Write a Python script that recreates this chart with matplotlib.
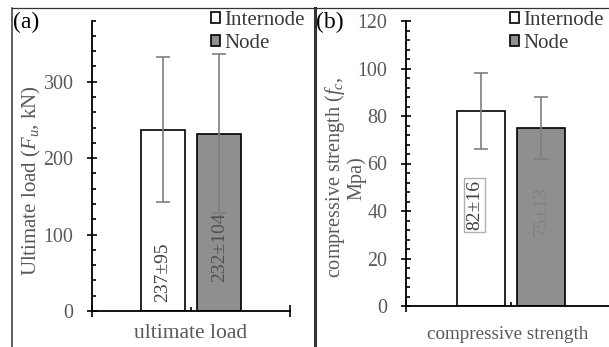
import matplotlib.pyplot as plt
from matplotlib.patches import Patch
from matplotlib.lines import Line2D

plt.rcParams['font.family'] = ['Liberation Serif', 'DejaVu Serif']
plt.rcParams['mathtext.fontset'] = 'custom'
plt.rcParams['mathtext.rm'] = 'Liberation Serif'
plt.rcParams['mathtext.it'] = 'Liberation Serif:italic'

# data
groups = ["Internode", "Node"]
load_mean = [237, 232]
load_sd = [95, 104]
strength_mean = [82, 75]
strength_sd = [16, 13]
load_labels = ["237±95", "232±104"]
strength_labels = ["82±16", "75±13"]

fills = ["white", "#8f8f8f"]
grey = "#595959"
w = 0.225
gap = 0.06
xs = [0.5 - gap / 2 - w / 2, 0.5 + gap / 2 + w / 2]

fig = plt.figure(figsize=(6.09, 3.47), dpi=100)
axa = fig.add_axes([92 / 609, 1 - 311 / 347, 198 / 609, 290.5 / 347])
axb = fig.add_axes([406 / 609, 1 - 306 / 347, 210 / 609, 285 / 347])


def style(ax, ymax, major, minor):
    for s in ["top", "right"]:
        ax.spines[s].set_visible(False)
    for s in ["left", "bottom"]:
        ax.spines[s].set_linewidth(1.3)
    ax.set_xlim(0, 1)
    ax.set_ylim(0, ymax)
    ax.set_yticks(range(0, ymax + 1, major))
    ax.set_yticks(range(0, ymax + 1, minor), minor=True)
    ax.tick_params(axis="y", which="major", direction="inout", length=6.7,
                   width=1.2, labelsize=14.4, labelcolor=grey, pad=10)
    ax.tick_params(axis="y", which="minor", direction="in", length=3.2, width=1.2)
    ax.set_xticks([0, 1])
    ax.set_xticklabels([])
    ax.set_xticks([0.5], minor=True)
    ax.tick_params(axis="x", which="major", direction="inout", length=8, width=1.2)
    ax.tick_params(axis="x", which="minor", direction="in", length=3, width=1.2)
    ax.patch.set_alpha(0)


def draw(ax, means, sds, ymax, major, minor):
    ax.bar(xs, means, width=w, color=fills, edgecolor="black", linewidth=1.2, zorder=2)
    ax.errorbar(xs, means, yerr=sds, fmt="none", ecolor="#7f7f7f",
                elinewidth=1.2, capsize=4.7, capthick=1.2, zorder=3)
    style(ax, ymax, major, minor)


draw(axa, load_mean, load_sd, 380, 100, 20)
draw(axb, strength_mean, strength_sd, 120, 20, 4)

# value labels inside bars
axa.text(xs[0], 51, load_labels[0], rotation=90, ha="center", va="center",
         fontsize=14, color="#404040", zorder=4)
axa.text(xs[1], 83, load_labels[1], rotation=90, ha="center", va="center",
         fontsize=14, color="#505050", zorder=4)
axb.text(xs[0] - 0.03, 42.5, strength_labels[0], rotation=90, ha="center", va="center",
         fontsize=14, color="#404040", zorder=4,
         bbox=dict(boxstyle="square,pad=0.1", fc="white", ec="#b0b0b0", lw=1))
axb.text(xs[1], 40, strength_labels[1], rotation=90, ha="center", va="center",
         fontsize=14, color="#808080", zorder=4)

# axis labels
axa.set_ylabel(r"Ultimate load ($F_u$, kN)", fontsize=15, color=grey)
axa.yaxis.set_label_coords(-0.247, 0.45)
axa.set_xlabel("ultimate load", fontsize=15.5, color=grey)
axa.xaxis.set_label_coords(0.5, -0.045)
axb.set_ylabel("compressive strength ($f_c$,\nMpa)", fontsize=14.6, color=grey,
               linespacing=0.95)
axb.yaxis.set_label_coords(-0.19, 0.45)
axb.set_xlabel("compressive strength", fontsize=13.7, color=grey)
axb.xaxis.set_label_coords((508 - 406) / 210, -0.07)

# legends
handles = [Patch(facecolor=f, edgecolor="black", linewidth=1.2) for f in fills]
for x0 in [211 / 609, 510 / 609]:
    leg = fig.legend(handles, groups, loc="upper left", bbox_to_anchor=(x0, 1 - 11 / 347),
                     frameon=False, fontsize=15, handlelength=0.45, handleheight=0.45,
                     handletextpad=0.2, labelspacing=0.2, borderaxespad=0,
                     borderpad=0)
    for t in leg.get_texts():
        t.set_color("#3a3a3a")

# panel letters
fig.text(13 / 609, 1 - 22 / 347, "(a)", fontsize=17, va="center", ha="left")
fig.text(316 / 609, 1 - 22 / 347, "(b)", fontsize=17, va="center", ha="left")

# frame lines
y_top = 1 - 8 / 347
fig.add_artist(Line2D([12 / 609, 1], [y_top, y_top], color="#333333", lw=0.9))
fig.add_artist(Line2D([12 / 609, 12 / 609], [0, y_top], color="#333333", lw=1.1))
fig.add_artist(Line2D([315 / 609, 315 / 609], [0, y_top], color="#333333", lw=2.2))

fig.savefig("out.png", dpi=100)
